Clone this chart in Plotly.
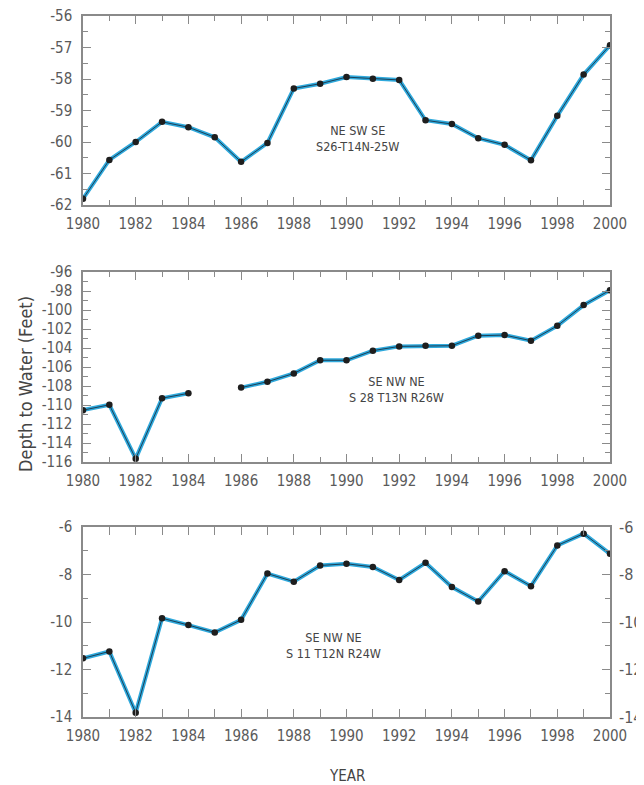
import plotly.graph_objects as go

years = list(range(1980, 2001))

site1_values = [-61.8, -60.57, -60.0, -59.36, -59.53, -59.85, -60.63, -60.03, -58.3, -58.15,
                -57.94, -57.99, -58.03, -59.31, -59.43, -59.88, -60.09, -60.58, -59.17, -57.86, -56.93]
site2_values = [-110.54, -109.98, -115.65, -109.28, -108.77, None, -108.17, -107.55, -106.68, -105.29,
                -105.29, -104.28, -103.83, -103.76, -103.76, -102.71, -102.64, -103.23, -101.67, -99.48, -97.91]
site3_values = [-11.53, -11.24, -13.82, -9.84, -10.13, -10.44, -9.91, -7.96, -8.3, -7.62,
                -7.55, -7.68, -8.23, -7.51, -8.53, -9.14, -7.86, -8.49, -6.78, -6.28, -7.13]

site_labels = ["NE SW SE<br>S26-T14N-25W", "SE NW NE<br>S 28 T13N R26W", "SE NW NE<br>S 11 T12N R24W"]
label_pos = [(1990.4, -59.9), (1991.9, -108.35), (1989.5, -11.0)]

x_tick_years = list(range(1980, 2001, 2))
y_ticks_1 = [-56, -57, -58, -59, -60, -61, -62]
y_ticks_2 = [-96, -98, -100, -102, -104, -106, -108, -110, -112, -114, -116]
y_ticks_3 = [-6, -8, -10, -12, -14]
y_tick_sets = [y_ticks_1, y_ticks_2, y_ticks_3]

y_ranges = [[-62, -56], [-116, -96], [-14, -6]]
y_minor = [0.5, 1, 1]

# the page body adds an 8 px margin; the figure is sized and laid out to compensate
OFF = 8
W, H = 644 - OFF, 785 - OFF
x0, x1 = 83 - OFF, 610 - OFF
panel_px = [(16 - OFF, 205 - OFF), (272 - OFF, 462 - OFF), (527 - OFF, 717 - OFF)]

FONT = "DejaVu Sans Condensed, Liberation Sans, Arial, sans-serif"
GRAY = "#5a5a5a"
FRAME = "#8a8a8a"
BLUE = "#2fa9dc"


def hyph(v):
    return str(v).replace("\u2212", "-")


fig = go.Figure()
series = [site1_values, site2_values, site3_values]
for i, vals in enumerate(series):
    ax = "" if i == 0 else str(i + 1)
    fig.add_trace(go.Scatter(x=years, y=vals, mode="lines", line=dict(color=BLUE, width=4),
                             xaxis="x" + ax, yaxis="y" + ax, connectgaps=False,
                             showlegend=False, hoverinfo="skip"))
    fig.add_trace(go.Scatter(x=years, y=vals, mode="lines+markers",
                             line=dict(color="#1b3f57", width=1),
                             marker=dict(color="#1e1e1e", size=6.5),
                             xaxis="x" + ax, yaxis="y" + ax, connectgaps=False,
                             showlegend=False))

# invisible trace for right-hand axis of panel 3
fig.add_trace(go.Scatter(x=years, y=site3_values, mode="lines", line=dict(width=0),
                         opacity=0, xaxis="x3", yaxis="y4", showlegend=False, hoverinfo="skip"))

layout = dict(width=W, height=H, paper_bgcolor="white", plot_bgcolor="white",
              margin=dict(l=0, r=0, t=0, b=0, autoexpand=False), showlegend=False,
              font=dict(family=FONT, color=GRAY, size=15))

for i in range(3):
    ax = "" if i == 0 else str(i + 1)
    top, bot = panel_px[i]
    layout["xaxis" + ax] = dict(
        domain=[x0 / W, x1 / W], anchor="y" + ax, range=[1980, 2000],
        tickmode="array", tickvals=x_tick_years, ticktext=[str(v) for v in x_tick_years],
        ticks="inside", ticklen=8, tickwidth=1,
        tickcolor=FRAME, showline=True, linecolor=FRAME, linewidth=1.5, mirror="allticks",
        showgrid=False, zeroline=False, ticklabelstandoff=4, automargin=False,
        ticklabeloverflow="allow",
        tickfont=dict(family=FONT, size=15, color=GRAY),
        minor=dict(dtick=1, tick0=1980, ticks="inside", ticklen=5, tickcolor=FRAME, showgrid=False))
    layout["yaxis" + ax] = dict(
        domain=[1 - bot / H, 1 - top / H], anchor="x" + ax, range=y_ranges[i],
        tickmode="array", tickvals=y_tick_sets[i], ticktext=[hyph(v) for v in y_tick_sets[i]],
        ticks="inside", ticklen=8,
        tickwidth=1, tickcolor=FRAME, showline=True, linecolor=FRAME, linewidth=1.5,
        mirror="allticks", showgrid=False, zeroline=False, ticklabelstandoff=6, automargin=False,
        ticklabeloverflow="allow",
        tickfont=dict(family=FONT, size=15, color=GRAY),
        minor=dict(dtick=y_minor[i], tick0=y_ranges[i][1], ticks="inside", ticklen=5,
                   tickcolor=FRAME, showgrid=False))

top, bot = panel_px[2]
layout["yaxis4"] = dict(
    domain=[1 - bot / H, 1 - top / H], anchor="x3", overlaying="y3", side="right",
    range=y_ranges[2], tickmode="array", tickvals=y_ticks_3, ticktext=[hyph(v) for v in y_ticks_3],
    ticks="", showline=False, showgrid=False, zeroline=False, ticklabelstandoff=8,
    automargin=False, ticklabeloverflow="allow",
    tickfont=dict(family=FONT, size=16, color=GRAY))

fig.update_layout(**layout)

for i, (txt, (lx, ly)) in enumerate(zip(site_labels, label_pos)):
    ax = "" if i == 0 else str(i + 1)
    fig.add_annotation(x=lx, y=ly, xref="x" + ax, yref="y" + ax, text=txt, showarrow=False,
                       font=dict(family=FONT, size=12.5, color="#444444"), align="center")

fig.add_annotation(x=(25 - OFF) / W, y=1 - (384 - OFF) / H, xref="paper", yref="paper",
                   xanchor="center", yanchor="middle",
                   text="Depth to Water (Feet)", textangle=-90, showarrow=False,
                   font=dict(family=FONT, size=18, color="#444444"))
fig.add_annotation(x=((x0 + x1) / 2) / W, y=1 - (776 - OFF) / H, xref="paper", yref="paper",
                   xanchor="center", yanchor="middle",
                   text="YEAR", showarrow=False,
                   font=dict(family=FONT, size=15, color="#444444"))

fig.write_html("out.html")
